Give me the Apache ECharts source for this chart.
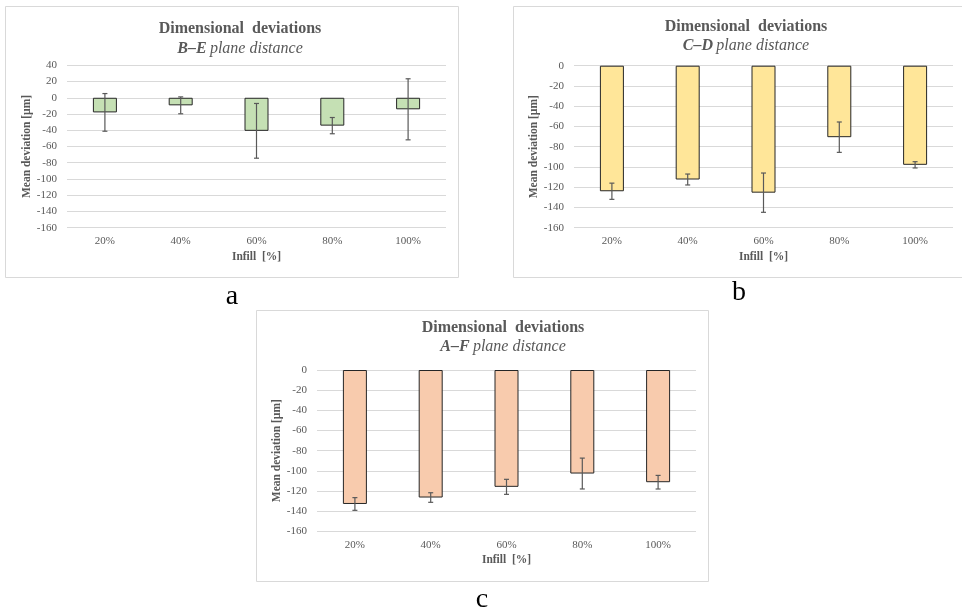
<!DOCTYPE html>
<html>
<head>
<meta charset="utf-8">
<script src="https://cdn.jsdelivr.net/npm/echarts@6/dist/echarts.min.js"></script>
<style>
html,body{margin:0;padding:0;background:#fff;}
#chart{width:962px;height:608px;}
</style>
</head>
<body>
<div id="chart"></div>
<script>
// ---- data ----
var categories = ['20%', '40%', '60%', '80%', '100%'];
var beMean = [-18, -9.3, -40.7, -34.3, -14.2];
var beErr  = [23.2, 10.4, 33.7, 10, 37.6];
var cdMean = [-124, -112.4, -125.4, -70.6, -97.9];
var cdErr  = [8, 5.4, 19.4, 15, 3.1];
var afMean = [-132.9, -126.5, -115.9, -102.7, -111.3];
var afErr  = [6.3, 4.75, 7.45, 15.3, 6.75];
var yTicksA = [-160, 40, 20];
var yTicksBC = [-160, 0, 20];

var FONT = "'Liberation Serif','Times New Roman',serif";
var GRAY = '#595959';

var chart = echarts.init(document.getElementById('chart'), null, {renderer: 'canvas'});

var panels = [
  {mean: beMean, err: beErr, color: '#c5e0b4', grid: {left: 67, top: 65.3, width: 379, height: 162.4}, ticks: yTicksA,
   frame: {x: 5, y: 6, w: 453, h: 271}, tx: 240, ty1: 29, ty2: 49, code: 'B–E', letter: 'a', lx: 232, ly: 297},
  {mean: cdMean, err: cdErr, color: '#ffe699', grid: {left: 574, top: 65.7, width: 379, height: 162}, ticks: yTicksBC,
   frame: {x: 513, y: 6, w: 460, h: 271}, tx: 746, ty1: 27, ty2: 46, code: 'C–D', letter: 'b', lx: 739, ly: 293},
  {mean: afMean, err: afErr, color: '#f8cbad', grid: {left: 317, top: 370, width: 379, height: 161.3}, ticks: yTicksBC,
   frame: {x: 256, y: 310, w: 452, h: 271}, tx: 503, ty1: 327.5, ty2: 347, code: 'A–F', letter: 'c', lx: 482, ly: 600}
];

var grids = [], xAxes = [], yAxes = [], series = [], graphics = [];

panels.forEach(function (p, i) {
  graphics.push({
    type: 'rect', z: -10, silent: true,
    shape: {x: p.frame.x + 0.5, y: p.frame.y + 0.5, width: p.frame.w, height: p.frame.h},
    style: {fill: '#fff', stroke: '#d9d9d9', lineWidth: 1}
  });
  graphics.push({
    type: 'text', x: p.tx, y: p.ty1, silent: true,
    style: {text: 'Dimensional  deviations', font: 'bold 16px ' + FONT, fill: GRAY, align: 'center', verticalAlign: 'middle'}
  });
  graphics.push({
    type: 'text', x: p.tx, y: p.ty2, silent: true,
    style: {
      text: '{b|' + p.code + '} {i|plane distance}',
      align: 'center', verticalAlign: 'middle', fill: GRAY,
      rich: {
        b: {font: 'italic bold 16px ' + FONT, fill: GRAY},
        i: {font: 'italic 16px ' + FONT, fill: GRAY}
      }
    }
  });
  graphics.push({
    type: 'text', x: p.lx, y: p.ly, silent: true,
    style: {text: p.letter, font: '28px ' + FONT, fill: '#000', align: 'center', verticalAlign: 'middle'}
  });

  grids.push(p.grid);
  xAxes.push({
    type: 'category', gridIndex: i, data: categories,
    position: 'bottom',
    axisLine: {show: false}, axisTick: {show: false},
    axisLabel: {color: GRAY, fontFamily: FONT, fontSize: 11, margin: 8},
    name: 'Infill  [%]', nameLocation: 'middle', nameGap: 23,
    nameTextStyle: {color: GRAY, fontFamily: FONT, fontSize: 11.5, fontWeight: 'bold'}
  });
  yAxes.push({
    type: 'value', gridIndex: i, min: p.ticks[0], max: p.ticks[1], interval: p.ticks[2],
    axisLine: {show: false}, axisTick: {show: false},
    splitLine: {lineStyle: {color: '#d9d9d9', width: 1}},
    axisLabel: {color: GRAY, fontFamily: FONT, fontSize: 11, margin: 10},
    name: 'Mean deviation [µm]', nameLocation: 'middle', nameGap: 33,
    nameTextStyle: {color: GRAY, fontFamily: FONT, fontSize: 11.5, fontWeight: 'bold'}
  });
  series.push({
    type: 'bar', xAxisIndex: i, yAxisIndex: i, data: p.mean, barWidth: 24,
    itemStyle: {color: p.color, borderColor: '#262626', borderWidth: 1},
    silent: true
  });
  var errData = p.mean.map(function (m, k) { return [k, m, p.err[k]]; });
  series.push({
    type: 'custom', xAxisIndex: i, yAxisIndex: i, data: errData, silent: true, z: 5,
    renderItem: function (params, api) {
      var x = api.value(0), m = api.value(1), e = api.value(2);
      var top = api.coord([x, m + e]);
      var bot = api.coord([x, m - e]);
      var hw = 2.5;
      var st = {stroke: '#595959', lineWidth: 1.2};
      return {
        type: 'group',
        children: [
          {type: 'line', shape: {x1: top[0], y1: top[1], x2: bot[0], y2: bot[1]}, style: st},
          {type: 'line', shape: {x1: top[0] - hw, y1: top[1], x2: top[0] + hw, y2: top[1]}, style: st},
          {type: 'line', shape: {x1: bot[0] - hw, y1: bot[1], x2: bot[0] + hw, y2: bot[1]}, style: st}
        ]
      };
    }
  });
});

chart.setOption({
  animation: false,
  backgroundColor: '#fff',
  grid: grids,
  xAxis: xAxes,
  yAxis: yAxes,
  series: series,
  graphic: graphics
});
</script>
</body>
</html>
